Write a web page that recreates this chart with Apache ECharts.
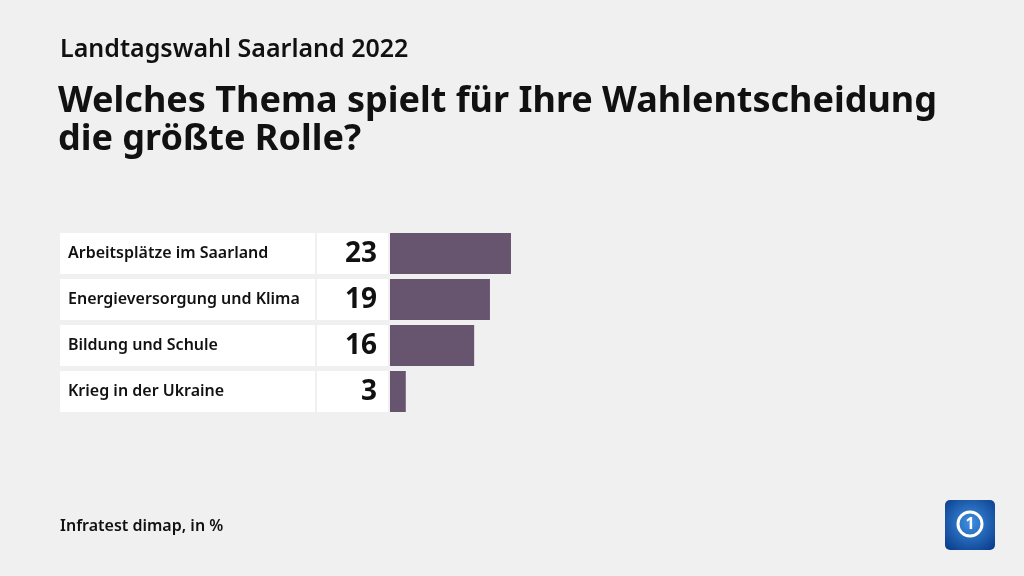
<!DOCTYPE html>
<html><head><meta charset="utf-8">
<script src="https://cdn.jsdelivr.net/npm/echarts@6/dist/echarts.min.js"></script>
<style>html,body{margin:0;padding:0;background:#f0f0f0}#c{width:1024px;height:576px}</style>
</head><body><div id="c"></div>
<script>
const categories = ['Arbeitsplätze im Saarland', 'Energieversorgung und Klima', 'Bildung und Schule', 'Krieg in der Ukraine'];
const values = [23, 19, 16, 3];
const supTitle = 'Landtagswahl Saarland 2022';
const titleLines = ['Welches Thema spielt für Ihre Wahlentscheidung', 'die größte Rolle?'];
const source = 'Infratest dimap, in %';

const FONT = '"Noto Sans", "Open Sans", sans-serif';
const chart = echarts.init(document.getElementById('c'), null, {renderer: 'canvas'});

const cellSeries = {
  type: 'custom',
  data: values.map((v, i) => [v, i]),
  encode: {x: 0, y: 1},
  clip: false,
  z: 1,
  renderItem: function (params, api) {
    const idx = api.value(1);
    const c = api.coord([0, idx]);
    const h = api.size([0, 1])[1] * 0.89;
    const top = c[1] - h / 2;
    return {
      type: 'group',
      children: [
        {type: 'rect', shape: {x: 60, y: top, width: 255, height: h}, style: {fill: '#ffffff'}},
        {type: 'rect', shape: {x: 317, y: top, width: 71, height: h}, style: {fill: '#ffffff'}},
        {type: 'text', style: {x: 68, y: c[1], text: categories[idx], fill: '#111', font: '600 16px ' + FONT, textAlign: 'left', textVerticalAlign: 'middle'}},
        {type: 'text', style: {x: 377, y: c[1] + 1, text: String(api.value(0)), fill: '#111', font: '700 28px ' + FONT, textAlign: 'right', textVerticalAlign: 'middle'}}
      ]
    };
  }
};

chart.setOption({
  backgroundColor: '#f0f0f0',
  animation: false,
  grid: {left: 390, top: 230.5, width: 526, height: 184},
  xAxis: {type: 'value', min: 0, max: 100, show: false},
  yAxis: {type: 'category', data: categories, inverse: true, show: false},
  series: [
    {type: 'bar', data: values, barWidth: 41, itemStyle: {color: '#67546f'}, z: 2},
    cellSeries
  ],
  graphic: [
    {type: 'text', left: 60, top: 37, style: {text: supTitle, fill: '#111', font: '600 25px ' + FONT}},
    {type: 'text', left: 58, top: 83, style: {text: titleLines.join('\n'), fill: '#111', font: '700 36px ' + FONT, lineHeight: 38}},
    {type: 'text', left: 60, top: 518, style: {text: source, fill: '#111', font: '600 16px ' + FONT}},
    {type: 'group', left: 945, top: 500, children: [
      {type: 'rect', shape: {x: 0, y: 0, width: 50, height: 50, r: 5}, style: {fill: new echarts.graphic.RadialGradient(0.5, 0.45, 0.7, [{offset: 0, color: '#3f8fe0'}, {offset: 1, color: '#0a3c8c'}])}},
      {type: 'circle', shape: {cx: 25, cy: 24, r: 12}, style: {fill: 'none', stroke: '#ffffff', lineWidth: 3}},
      {type: 'text', style: {x: 25, y: 24, text: '1', fill: '#ffffff', font: '700 16px ' + FONT, textAlign: 'center', textVerticalAlign: 'middle'}}
    ]}
  ]
});
</script></body></html>
